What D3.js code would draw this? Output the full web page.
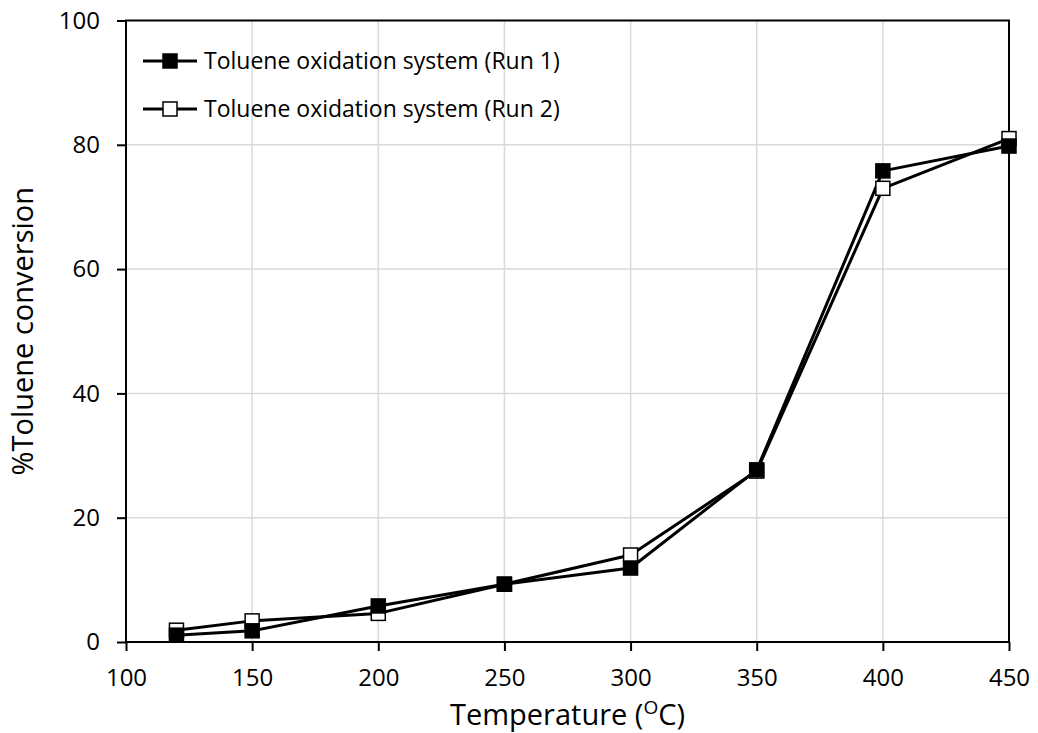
<!DOCTYPE html>
<html>
<head>
<meta charset="utf-8">
<script src="https://cdn.jsdelivr.net/npm/d3@7"></script>
<style>
  body { margin: 0; background: #fff; }
  text { font-family: "Open Sans", "Noto Sans", sans-serif; fill: #000; }
</style>
</head>
<body>
<svg id="chart" width="1038" height="733"></svg>
<script>
const temps = [120, 150, 200, 250, 300, 350, 400, 450];
const run1 = [1.1, 1.8, 5.8, 9.3, 11.9, 27.7, 75.8, 79.8];
const run2 = [1.9, 3.4, 4.6, 9.3, 14.0, 27.5, 73.0, 81.0];
const xTicks = [100, 150, 200, 250, 300, 350, 400, 450];
const yTicks = [0, 20, 40, 60, 80, 100];
const seriesNames = ["Toluene oxidation system (Run 1)", "Toluene oxidation system (Run 2)"];

const svg = d3.select("#chart");
const margin = {left: 126, right: 29, top: 20.5, bottom: 91};
const W = 1038, H = 733;

const x = d3.scaleLinear().domain([100, 450]).range([margin.left, W - margin.right]);
const y = d3.scaleLinear().domain([0, 100]).range([H - margin.bottom, margin.top]);

// grid
svg.append("g").selectAll("line.v")
  .data(xTicks.slice(1, -1))
  .join("line")
  .attr("x1", d => x(d)).attr("x2", d => x(d))
  .attr("y1", y(0)).attr("y2", y(100))
  .attr("stroke", "#d9d9d9").attr("stroke-width", 1.5);
svg.append("g").selectAll("line.h")
  .data(yTicks.slice(1, -1))
  .join("line")
  .attr("x1", x(100)).attr("x2", x(450))
  .attr("y1", d => y(d)).attr("y2", d => y(d))
  .attr("stroke", "#d9d9d9").attr("stroke-width", 1.5);

// frame
svg.append("rect")
  .attr("x", x(100)).attr("y", y(100))
  .attr("width", x(450) - x(100)).attr("height", y(0) - y(100))
  .attr("fill", "none").attr("stroke", "#000").attr("stroke-width", 2);

// axes
const xAxis = svg.append("g")
  .attr("transform", `translate(0,${y(0)})`)
  .call(d3.axisBottom(x).tickValues(xTicks).tickSize(9).tickPadding(18));
const yAxis = svg.append("g")
  .attr("transform", `translate(${x(100)},0)`)
  .call(d3.axisLeft(y).tickValues(yTicks).tickSize(9).tickPadding(17));
[xAxis, yAxis].forEach(a => {
  a.select(".domain").remove();
  a.selectAll("line").attr("stroke", "#000").attr("stroke-width", 2);
  a.selectAll("text").style("font-size", "24px").style("font-family", "'Open Sans', sans-serif");
});

// axis titles
const xt = svg.append("text")
  .attr("x", (x(100) + x(450)) / 2).attr("y", 725)
  .attr("text-anchor", "middle")
  .style("font-size", "29px");
xt.append("tspan").text("Temperature (");
xt.append("tspan").attr("dy", -11).style("font-size", "19px").text("O");
xt.append("tspan").attr("dy", 11).text("C)");

svg.append("text")
  .attr("transform", `translate(33,${(y(0) + y(100)) / 2}) rotate(-90)`)
  .attr("text-anchor", "middle")
  .style("font-size", "29px")
  .text("%Toluene conversion");

// series
const series = [
  {name: seriesNames[0], values: run1, fill: "#000"},
  {name: seriesNames[1], values: run2, fill: "#fff"}
];
const line = d3.line().x((d, i) => x(temps[i])).y(d => y(d));
const ms = 14;

series.forEach(s => {
  svg.append("path")
    .datum(s.values)
    .attr("d", line)
    .attr("fill", "none").attr("stroke", "#000").attr("stroke-width", 3)
    .attr("stroke-linejoin", "round");
});
series.slice().reverse().forEach(s => {
  svg.append("g").selectAll("rect")
    .data(s.values)
    .join("rect")
    .attr("x", (d, i) => x(temps[i]) - ms / 2)
    .attr("y", d => y(d) - ms / 2)
    .attr("width", ms).attr("height", ms)
    .attr("fill", s.fill).attr("stroke", "#000").attr("stroke-width", 1.5);
});

// legend
const legend = svg.append("g");
series.forEach((s, i) => {
  const ly = 61 + i * 48;
  legend.append("line")
    .attr("x1", 143).attr("x2", 197).attr("y1", ly).attr("y2", ly)
    .attr("stroke", "#000").attr("stroke-width", 3);
  legend.append("rect")
    .attr("x", 170 - ms / 2).attr("y", ly - ms / 2)
    .attr("width", ms).attr("height", ms)
    .attr("fill", s.fill).attr("stroke", "#000").attr("stroke-width", 1.5);
  legend.append("text")
    .attr("x", 204).attr("y", ly).attr("dy", "0.35em")
    .style("font-size", "23px")
    .text(s.name);
});
</script>
</body>
</html>
